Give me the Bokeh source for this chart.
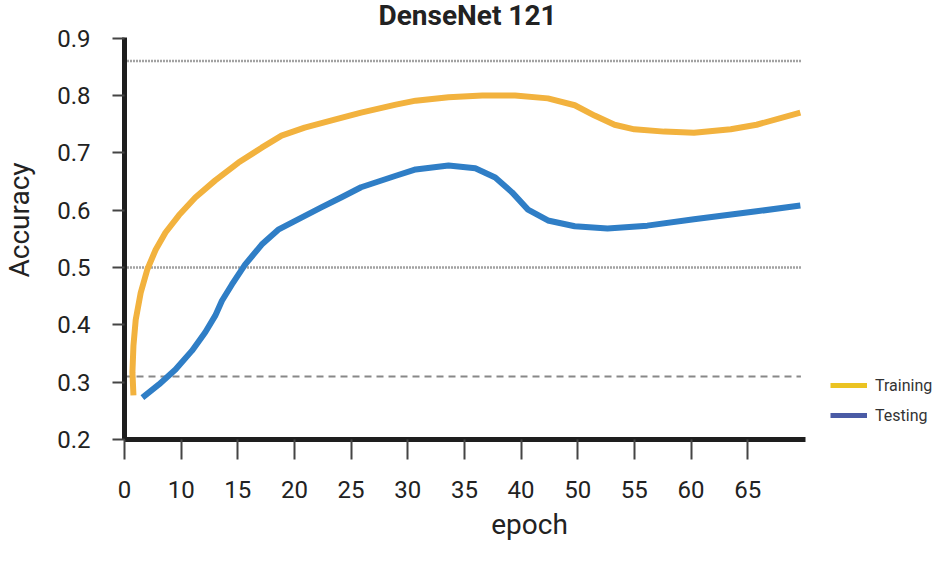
from bokeh.plotting import figure
from bokeh.models import Range1d, FixedTicker, Legend, LegendItem, Label
from bokeh.embed import file_html
from bokeh.resources import INLINE

# ---- data ----
tick_positions = [0, 5, 10, 15, 20, 25, 30, 35, 40, 45, 50, 55]
tick_labels = ["0", "10", "15", "20", "25", "30", "35", "40", "50", "55", "60", "65"]
y_ticks = [0.2, 0.3, 0.4, 0.5, 0.6, 0.7, 0.8, 0.9]

train_x = [0.79, 0.70, 0.79, 0.99, 1.43, 2.02, 2.75, 3.62, 4.80, 6.25, 8.01, 10.06, 12.11,
           13.86, 15.90, 18.54, 20.88, 23.95, 25.70, 28.60, 31.58, 34.47, 37.37, 39.74,
           41.49, 43.25, 45.00, 47.63, 50.26, 53.51, 55.79, 59.65]
train_y = [0.277, 0.317, 0.364, 0.409, 0.456, 0.497, 0.531, 0.561, 0.591, 0.622, 0.652,
           0.683, 0.709, 0.730, 0.744, 0.758, 0.770, 0.784, 0.791, 0.797, 0.800, 0.800,
           0.795, 0.783, 0.765, 0.749, 0.741, 0.737, 0.735, 0.741, 0.749, 0.770]

test_x = [1.58, 3.04, 4.50, 5.96, 7.13, 8.01, 8.60, 9.47, 10.64, 12.11, 13.57, 15.32, 17.37,
          19.12, 20.88, 23.95, 25.70, 28.60, 30.96, 32.72, 34.21, 35.61, 37.37, 39.74,
          42.63, 46.14, 50.26, 55.79, 59.65]
test_y = [0.273, 0.296, 0.322, 0.355, 0.387, 0.416, 0.442, 0.470, 0.505, 0.540, 0.566,
          0.584, 0.605, 0.622, 0.640, 0.660, 0.671, 0.678, 0.673, 0.657, 0.631, 0.601,
          0.582, 0.572, 0.568, 0.573, 0.584, 0.598, 0.608]

dotted_levels = [0.86, 0.50]
dashed_level = 0.31
x_axis_end = 60.1      # end of the drawn x axis
y_axis_end = 0.901     # top of the drawn y axis
ref_line_end = 59.7    # horizontal reference lines stop here

FONT = "Roboto"
NAN = float("nan")

p = figure(width=934, height=557, output_backend="svg", toolbar_location=None,
           x_range=Range1d(0, 71.49), y_range=Range1d(0.2, 0.9657),
           min_border_left=119, min_border_right=0, min_border_top=0,
           min_border_bottom=118)

p.outline_line_color = None
p.xgrid.grid_line_color = None
p.ygrid.grid_line_color = None

for ax in (p.xaxis, p.yaxis):
    ax.axis_line_color = "#1e1e1e"
    ax.axis_line_width = 5
    ax.major_tick_line_color = "#444444"
    ax.major_tick_line_width = 2
    ax.major_tick_in = 0
    ax.minor_tick_line_color = None
    ax.major_label_text_font = FONT
    ax.major_label_text_font_size = "24px"
    ax.major_label_text_color = "#222222"
    ax.axis_label_text_font = FONT
    ax.axis_label_text_font_size = "28px"
    ax.axis_label_text_font_style = "normal"
    ax.axis_label_text_color = "#222222"

p.xaxis.bounds = (0, x_axis_end)
p.xaxis.ticker = FixedTicker(ticks=tick_positions)
p.xaxis.major_label_overrides = {t: l for t, l in zip(tick_positions, tick_labels)}
p.xaxis.major_tick_out = 20
p.xaxis.major_label_standoff = 21
p.xaxis.axis_label = "epoch"
p.xaxis.axis_label_standoff = 7

p.yaxis.bounds = (0.2, y_axis_end)
p.yaxis.ticker = FixedTicker(ticks=y_ticks)
p.yaxis.major_label_overrides = {t: f"{t:.1f}" for t in y_ticks}
p.yaxis.major_tick_out = 12
p.yaxis.major_label_standoff = 22
p.yaxis.axis_label = "Accuracy"
p.yaxis.axis_label_standoff = 18

n = len(dotted_levels)
p.segment(x0=[0] * n, x1=[ref_line_end] * n, y0=dotted_levels, y1=dotted_levels,
          line_color="#444444", line_width=2.5, line_dash="1 2")
p.segment(x0=[0], x1=[ref_line_end], y0=[dashed_level], y1=[dashed_level],
          line_color="#888888", line_width=2, line_dash="7 5")

p.line(train_x, train_y, line_color="#F2B23E", line_width=6, line_cap="butt", line_join="round")
p.line(test_x, test_y, line_color="#2F7EC6", line_width=6, line_cap="butt", line_join="round")

# title drawn as a label so that it can sit at the very top of the page
p.add_layout(Label(x=343, y=424, x_units="screen", y_units="screen", text="DenseNet 121",
                   text_font=FONT, text_font_size="28px", text_font_style="bold",
                   text_color="#222222", text_align="center", text_baseline="alphabetic"))

# legend swatches (legend colours differ slightly from the curves in the reference)
r_tr = p.line([NAN], [NAN], line_color="#EBC322", line_width=5)
r_te = p.line([NAN], [NAN], line_color="#4A5BA5", line_width=5)
legend = Legend(items=[LegendItem(label="Training", renderers=[r_tr]),
                       LegendItem(label="Testing", renderers=[r_te])],
                location=(706, 14), orientation="vertical",
                padding=0, margin=0, spacing=10, glyph_width=37, glyph_height=20,
                label_standoff=8, label_text_font=FONT, label_text_font_size="16px",
                label_text_color="#333333", border_line_alpha=0,
                background_fill_alpha=0)
p.add_layout(legend)

open("out.html", "w").write(file_html(p, INLINE))
